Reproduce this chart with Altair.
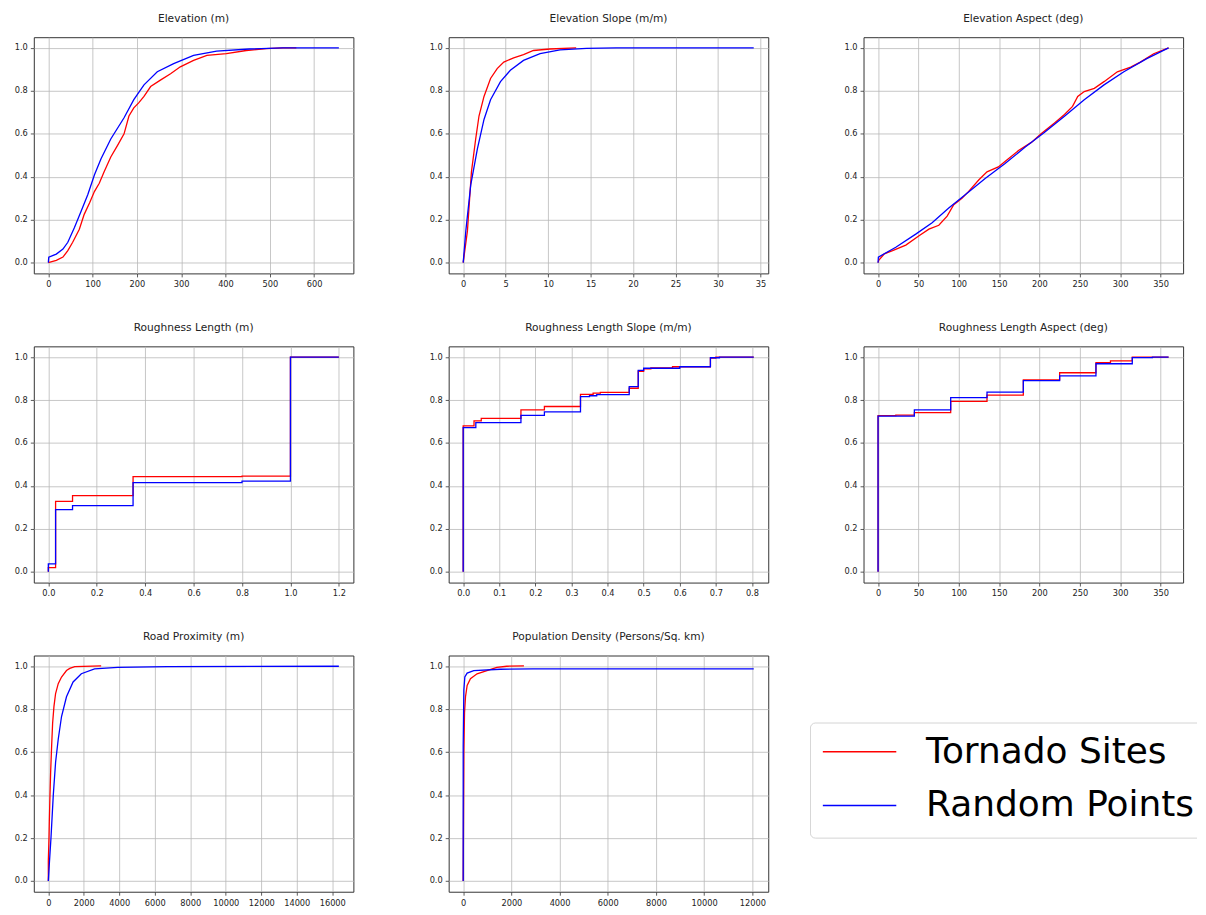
import altair as alt
import pandas as pd

SERIES = ["Tornado Sites", "Random Points"]
COLORS = ["#ff0000", "#0000ff"]
Y_TICKS = [0.0, 0.2, 0.4, 0.6, 0.8, 1.0]

# ---- Elevation (m)
elev_t_x = [0, 18, 33, 44, 55, 70, 81, 93, 104, 115, 126, 141, 156, 171, 182, 193, 204, 216, 231, 253, 276, 298, 328, 358, 402, 447, 492, 530, 560]
elev_t_y = [0, 0.011, 0.026, 0.056, 0.095, 0.156, 0.225, 0.278, 0.331, 0.37, 0.423, 0.492, 0.545, 0.6, 0.683, 0.721, 0.744, 0.774, 0.82, 0.85, 0.88, 0.912, 0.942, 0.965, 0.973, 0.988, 0.997, 1.0, 1.0]
elev_r_x = [0, 1, 18, 33, 44, 59, 74, 89, 104, 119, 141, 171, 193, 216, 246, 283, 328, 380, 454, 529, 656]
elev_r_y = [0, 0.026, 0.04, 0.063, 0.095, 0.164, 0.24, 0.316, 0.408, 0.484, 0.576, 0.675, 0.759, 0.828, 0.889, 0.927, 0.965, 0.985, 0.995, 1.0, 1.0]

# ---- Elevation Slope (m/m)
slope_t_x = [0, 0.5, 0.97, 1.47, 1.86, 2.45, 3.22, 4.0, 4.78, 5.94, 7.1, 8.27, 10.2, 13.3]
slope_t_y = [0, 0.148, 0.423, 0.576, 0.683, 0.774, 0.858, 0.904, 0.934, 0.954, 0.969, 0.988, 0.995, 1.0]
slope_r_x = [0, 0.31, 0.89, 1.67, 2.45, 3.22, 4.39, 5.55, 7.1, 9.05, 11.4, 14.5, 18, 34.2]
slope_r_y = [0, 0.148, 0.362, 0.53, 0.667, 0.759, 0.843, 0.896, 0.942, 0.973, 0.991, 0.998, 1.0, 1.0]

# ---- Elevation Aspect (deg)
aspect_t_x = [0, 0.8, 7.8, 18, 34.4, 50.8, 63, 75.3, 85.6, 93.8, 104, 112, 124.7, 135, 149, 161.5, 174, 190, 202, 219, 231, 241, 247.4, 255.5, 268, 280, 296.5, 313, 325, 341.5, 360]
aspect_t_y = [0, 0.011, 0.041, 0.056, 0.082, 0.125, 0.156, 0.174, 0.217, 0.27, 0.3, 0.331, 0.385, 0.423, 0.446, 0.484, 0.522, 0.56, 0.6, 0.652, 0.69, 0.728, 0.774, 0.797, 0.812, 0.843, 0.889, 0.911, 0.934, 0.973, 1.0]
aspect_r_x = [0, 0.4, 22, 46.7, 67, 87.6, 108, 132.7, 157, 182, 206, 231, 255.5, 280, 304.6, 333, 360]
aspect_r_y = [0, 0.026, 0.072, 0.133, 0.186, 0.255, 0.316, 0.392, 0.461, 0.537, 0.606, 0.682, 0.759, 0.828, 0.889, 0.95, 1.0]

# ---- Roughness Length (m)  (step functions)
rough_t_x = [0, 0, 0.03, 0.1, 0.35, 0.8, 1.0, 1.2]
rough_t_y = [0, 0.02, 0.328, 0.355, 0.443, 0.446, 1.0, 1.0]
rough_r_x = [0, 0, 0.03, 0.1, 0.35, 0.8, 1.0, 1.2]
rough_r_y = [0, 0.037, 0.29, 0.308, 0.415, 0.422, 1.0, 1.0]

# ---- Roughness Length Slope (m/m)
rslope_t_x = [0, 0, 0.03, 0.05, 0.16, 0.225, 0.325, 0.36, 0.38, 0.46, 0.485, 0.5, 0.52, 0.58, 0.685, 0.7, 0.805]
rslope_t_y = [0, 0.68, 0.703, 0.715, 0.754, 0.77, 0.826, 0.832, 0.836, 0.855, 0.934, 0.945, 0.95, 0.955, 0.995, 1.0, 1.0]
rslope_r_x = [0, 0, 0.035, 0.16, 0.225, 0.325, 0.35, 0.37, 0.46, 0.485, 0.5, 0.6, 0.685, 0.71, 0.805]
rslope_r_y = [0, 0.672, 0.695, 0.729, 0.745, 0.816, 0.82, 0.825, 0.862, 0.938, 0.948, 0.955, 0.997, 1.0, 1.0]

# ---- Roughness Length Aspect (deg)
raspect_t_x = [0, 0, 22, 45, 90, 135, 180, 225, 270, 288, 315, 360]
raspect_t_y = [0, 0.727, 0.73, 0.741, 0.794, 0.823, 0.894, 0.927, 0.974, 0.982, 1.0, 1.0]
raspect_r_x = [0, 0, 45, 90, 135, 180, 225, 270, 315, 340, 360]
raspect_r_y = [0, 0.725, 0.754, 0.811, 0.837, 0.89, 0.913, 0.969, 0.998, 1.0, 1.0]

# ---- Road Proximity (m)
road_t_x = [0, 0, 37, 56, 93, 130, 186, 242, 316, 409, 558, 744, 1023, 1209, 1488, 2977]
road_t_y = [0, 0.095, 0.2, 0.278, 0.4, 0.507, 0.629, 0.736, 0.812, 0.873, 0.919, 0.95, 0.98, 0.99, 0.998, 1.002]
road_r_x = [0, 56, 149, 279, 409, 558, 744, 1023, 1395, 1860, 2605, 3907, 6698, 16372]
road_r_y = [0, 0.079, 0.2, 0.4, 0.553, 0.66, 0.766, 0.858, 0.927, 0.965, 0.988, 0.995, 0.998, 1.0]

# ---- Population Density (Persons/Sq. km)
pop_t_x = [0, 14, 27, 55, 96, 164, 301, 575, 986, 1397, 1808, 2520]
pop_t_y = [0, 0.324, 0.598, 0.782, 0.858, 0.911, 0.942, 0.965, 0.98, 0.995, 1.0, 1.002]
pop_r_x = [0, 0, 27, 68, 164, 438, 1534, 2904, 12055]
pop_r_y = [0, 0.629, 0.889, 0.95, 0.968, 0.98, 0.986, 0.988, 0.988]

PW, PH = 322, 238
COLOR_SCALE = alt.Scale(domain=SERIES, range=COLORS)


def panel(title, tx, ty, rx, ry, ticks, fmt, step=False):
    rows = []
    for name, xs, ys in ((SERIES[0], tx, ty), (SERIES[1], rx, ry)):
        for i, (a, b) in enumerate(zip(xs, ys)):
            rows.append({"x": a, "y": b, "series": name, "i": i})
    df = pd.DataFrame(rows)
    lo = min(min(tx), min(rx))
    hi = max(max(tx), max(rx))
    m = 0.05 * (hi - lo)
    base = alt.Chart(df).mark_line(
        interpolate="step-after" if step else "linear", strokeWidth=1.3
    ).encode(
        x=alt.X("x:Q", title=None,
                scale=alt.Scale(domain=[lo - m, hi + m], nice=False, zero=False),
                axis=alt.Axis(values=ticks, format=fmt, labelOverlap=False)),
        y=alt.Y("y:Q", title=None,
                scale=alt.Scale(domain=[-0.05, 1.05], nice=False, zero=False),
                axis=alt.Axis(values=Y_TICKS, format=".1f")),
        color=alt.Color("series:N", title=None, scale=COLOR_SCALE, legend=None),
        order="i:Q",
    )
    red = base.transform_filter(alt.datum.series == SERIES[0])
    blue = base.transform_filter(alt.datum.series == SERIES[1])
    return alt.layer(red, blue).properties(width=PW, height=PH, title=title)


p1 = panel("Elevation (m)", elev_t_x, elev_t_y, elev_r_x, elev_r_y, list(range(0, 601, 100)), "d")
p2 = panel("Elevation Slope (m/m)", slope_t_x, slope_t_y, slope_r_x, slope_r_y, list(range(0, 36, 5)), "d")
p3 = panel("Elevation Aspect (deg)", aspect_t_x, aspect_t_y, aspect_r_x, aspect_r_y, list(range(0, 351, 50)), "d")
p4 = panel("Roughness Length (m)", rough_t_x, rough_t_y, rough_r_x, rough_r_y, [0, 0.2, 0.4, 0.6, 0.8, 1.0, 1.2], ".1f", step=True)
p5 = panel("Roughness Length Slope (m/m)", rslope_t_x, rslope_t_y, rslope_r_x, rslope_r_y, [0, 0.1, 0.2, 0.3, 0.4, 0.5, 0.6, 0.7, 0.8], ".1f", step=True)
p6 = panel("Roughness Length Aspect (deg)", raspect_t_x, raspect_t_y, raspect_r_x, raspect_r_y, list(range(0, 351, 50)), "d", step=True)
p7 = panel("Road Proximity (m)", road_t_x, road_t_y, road_r_x, road_r_y, list(range(0, 16001, 2000)), "d")
p8 = panel("Population Density (Persons/Sq. km)", pop_t_x, pop_t_y, pop_r_x, pop_r_y, list(range(0, 12001, 2000)), "d")

# ---- legend panel (built from the series names)
LW = 390
BOX_TOP, BOX_BOT = 68, 184
ROW1, ROW2 = 97, 151
legend_df = pd.DataFrame({"series": SERIES, "row": [0, 1]})
box = alt.Chart(pd.DataFrame({"k": [0]})).mark_rect(
    fill="#ffffff", stroke="#d4d4d4", strokeWidth=1, cornerRadius=5, clip=True
).encode(x=alt.value(0.5), x2=alt.value(LW + 20), y=alt.value(BOX_TOP), y2=alt.value(BOX_BOT))
ypos = alt.Y("row:Q", axis=None,
             scale=alt.Scale(domain=[0, 1], range=[ROW1, ROW2], nice=False, zero=False))
lines = alt.Chart(legend_df).mark_rule(strokeWidth=1.5).encode(
    y=ypos, x=alt.value(13), x2=alt.value(87),
    color=alt.Color("series:N", scale=COLOR_SCALE, legend=None),
)
labels = alt.Chart(legend_df).mark_text(
    align="left", baseline="middle", fontSize=36.2, font="DejaVu Sans", color="#000000"
).encode(y=ypos, x=alt.value(117), text="series:N")
legend_panel = alt.layer(box, lines, labels).properties(
    width=LW, height=PH, view=alt.ViewBackground(stroke="transparent", fill="transparent")
)

HS = 74
chart = alt.vconcat(
    alt.hconcat(p1, p2, p3, spacing=HS),
    alt.hconcat(p4, p5, p6, spacing=HS),
    alt.hconcat(alt.hconcat(p7, p8, spacing=HS), legend_panel, spacing=40),
    spacing=31.5,
).configure_view(
    stroke="#333333", strokeWidth=1
).configure_axis(
    domain=False, grid=True, gridColor="#b8b8b8", gridWidth=0.8,
    tickColor="#333333", tickSize=3.5, tickWidth=0.8,
    labelFont="DejaVu Sans", labelFontSize=8.3, labelColor="#222222", labelPadding=3,
).configure_title(
    font="DejaVu Sans", fontSize=10.7, fontWeight="normal", color="#222222", offset=13,
).properties(
    background="#ffffff", padding={"top": 0, "left": 5, "right": 0, "bottom": 0}
)

chart.save("out.html", embed_options={"renderer": "svg", "actions": False})
